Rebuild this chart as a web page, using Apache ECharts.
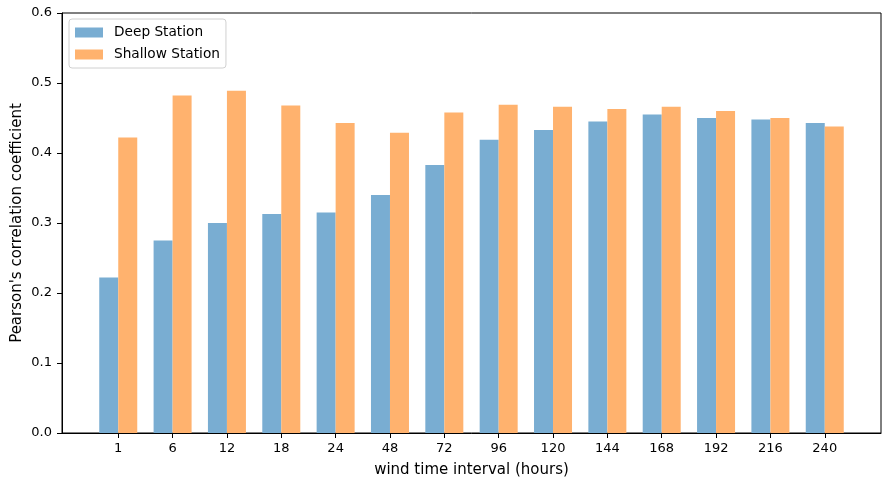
<!DOCTYPE html>
<html>
<head>
<meta charset="utf-8">
<script src="https://cdn.jsdelivr.net/npm/echarts@6/dist/echarts.min.js"></script>
<style>html,body{margin:0;padding:0;background:#fff}#c{width:890px;height:487px}</style>
</head>
<body>
<div id="c"></div>
<script>
const categories = ['1','6','12','18','24','48','72','96','120','144','168','192','216','240'];
const deepStation = [0.222,0.275,0.300,0.313,0.315,0.340,0.383,0.419,0.433,0.445,0.455,0.450,0.448,0.443];
const shallowStation = [0.422,0.482,0.489,0.468,0.443,0.429,0.458,0.469,0.466,0.463,0.466,0.460,0.450,0.438];
const yTicks = [0,0.1,0.2,0.3,0.4,0.5,0.6];

const font = 'DejaVu Sans';
const idx = categories.map((c,i)=>i);
const chart = echarts.init(document.getElementById('c'), null, {renderer:'canvas'});
chart.setOption({
  animation:false,
  textStyle:{fontFamily:font,color:'#000'},
  grid:{left:62,right:9,top:13,bottom:54,containLabel:false,outerBoundsMode:'none',show:true,borderColor:'#000',borderWidth:1,backgroundColor:'transparent'},
  legend:{
    left:69,top:19,orient:'vertical',padding:[6,6,6,6],icon:'rect',
    borderColor:'#d0d0d0',borderWidth:1,borderRadius:3,backgroundColor:'#fff',
    itemWidth:28,itemHeight:10,itemGap:7,
    textStyle:{fontFamily:font,fontSize:13.7,color:'#000',lineHeight:15,padding:[0,0,0,6]},
    data:['Deep Station','Shallow Station']
  },
  xAxis:{
    type:'value',min:-1.035,max:14.035,
    name:'wind time interval (hours)',nameLocation:'middle',nameGap:30,nameMoveOverlap:false,
    nameTextStyle:{fontFamily:font,fontSize:15,color:'#000'},
    axisLine:{show:true,onZero:false,lineStyle:{color:'#000'}},
    axisTick:{show:true,inside:false,customValues:idx,length:5,lineStyle:{color:'#000'}},
    axisLabel:{customValues:idx,formatter:v=>categories[Math.round(v)],fontFamily:font,fontSize:13,color:'#000',margin:9},
    splitLine:{show:false}
  },
  yAxis:{
    type:'value',min:0,max:0.6,interval:0.1,
    name:"Pearson's correlation coefficient",nameLocation:'middle',nameGap:37,nameMoveOverlap:false,
    nameTextStyle:{fontFamily:font,fontSize:15,color:'#000'},
    axisLine:{show:true,onZero:false,lineStyle:{color:'#000'}},
    axisTick:{show:true,inside:false,length:5,lineStyle:{color:'#000'}},
    axisLabel:{formatter:v=>v.toFixed(1),fontFamily:font,fontSize:13,color:'#000',margin:10},
    splitLine:{show:false}
  },
  series:[
    {name:'Deep Station',type:'bar',data:deepStation.map((v,i)=>[i,v]),barWidth:19,barGap:'0%',itemStyle:{color:'#79add2'}},
    {name:'Shallow Station',type:'bar',data:shallowStation.map((v,i)=>[i,v]),barWidth:19,barGap:'0%',itemStyle:{color:'#ffb26e'}}
  ]
});
</script>
</body>
</html>
